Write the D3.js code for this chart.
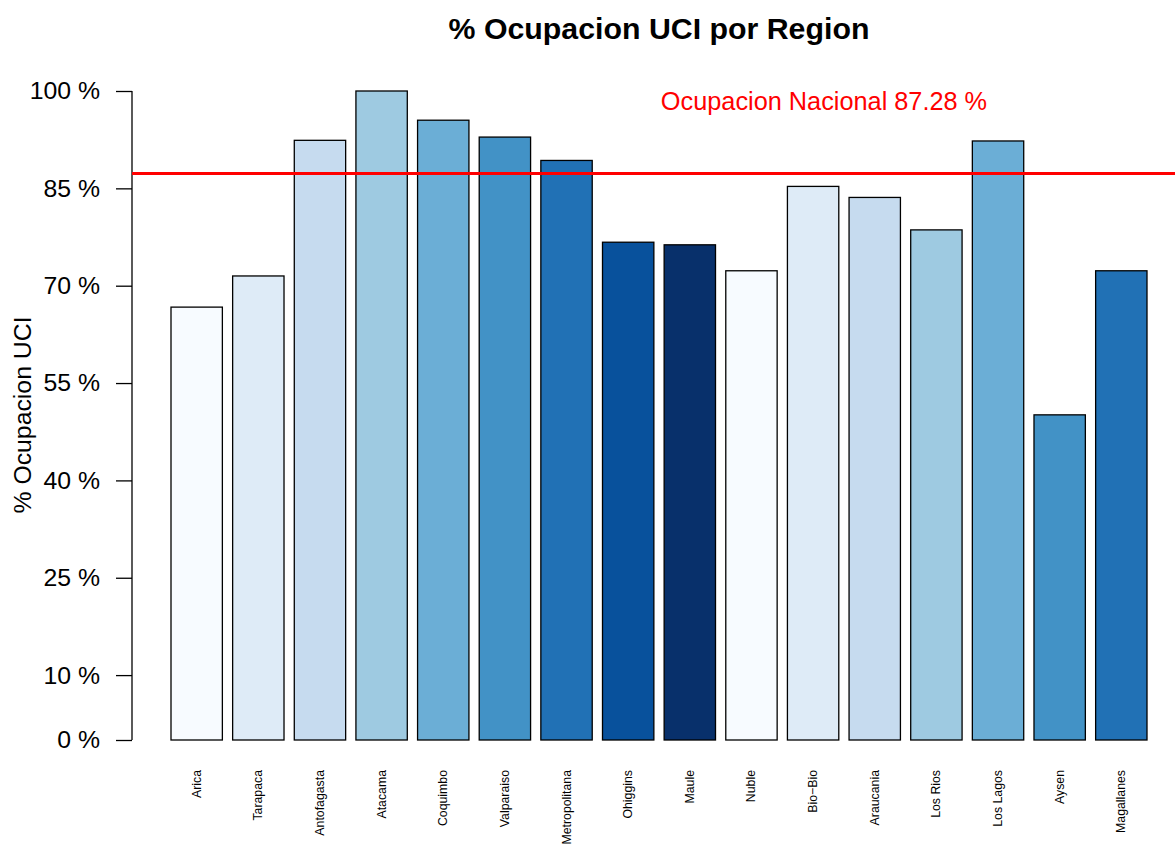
<!DOCTYPE html>
<html>
<head>
<meta charset="utf-8">
<script src="https://cdn.jsdelivr.net/npm/d3@7"></script>
<style>
  body { margin: 0; background: #fff; }
  text { font-family: "Liberation Sans", Arial, sans-serif; }
</style>
</head>
<body>
<script>
var regions = ["Arica", "Tarapaca", "Antofagasta", "Atacama", "Coquimbo", "Valparaiso",
  "Metropolitana", "Ohiggins", "Maule", "Nuble", "Bio\u2212Bio", "Araucania",
  "Los Rios", "Los Lagos", "Aysen", "Magallanes"];
var ocupacion = [66.7, 71.5, 92.4, 100, 95.5, 92.9, 89.3, 76.7, 76.3, 72.3, 85.3, 83.6, 78.6, 92.3, 50.1, 72.3];
var nacional = 87.28;
var yTicks = [0, 10, 25, 40, 55, 70, 85, 100];
var blues = ["#F7FBFF", "#DEEBF7", "#C6DBEF", "#9ECAE1", "#6BAED6", "#4292C6", "#2171B5", "#08519C", "#08306B"];

var width = 1175, height = 848;

var svg = d3.select("body").append("svg")
  .attr("width", width)
  .attr("height", height);

var x = d3.scaleBand().domain(regions).range([171, 1147]).paddingInner(1 / 6).paddingOuter(0);
var y = d3.scaleLinear().domain([0, 100]).range([740, 91]);

// bars
svg.selectAll("rect.bar").data(ocupacion).enter().append("rect")
  .attr("class", "bar")
  .attr("x", function(d, i) { return x(regions[i]); })
  .attr("y", function(d) { return y(d); })
  .attr("width", x.bandwidth())
  .attr("height", function(d) { return y(0) - y(d); })
  .style("fill", function(d, i) { return blues[i % 9]; })
  .style("stroke", "#000")
  .style("stroke-width", 1.3);

// y axis
var yAxis = svg.append("g")
  .attr("transform", "translate(132,0)")
  .call(d3.axisLeft(y).tickValues(yTicks).tickSize(16).tickPadding(16)
    .tickFormat(function(d) { return d + " %"; }));
yAxis.select(".domain").attr("d", "M0," + y(0) + "V" + y(100))
  .style("stroke", "#000").style("stroke-width", 1.3);
yAxis.selectAll(".tick line").style("stroke", "#000").style("stroke-width", 1.3);
yAxis.selectAll(".tick text")
  .style("font-family", "'Liberation Sans', Arial, sans-serif")
  .style("font-size", "24.8px")
  .style("fill", "#000");

// x labels
svg.selectAll("text.xlab").data(regions).enter().append("text")
  .attr("class", "xlab")
  .attr("transform", function(d) {
    return "translate(" + (x(d) + x.bandwidth() / 2 + 4) + ",770) rotate(-90)";
  })
  .attr("text-anchor", "end")
  .style("font-size", "12.3px")
  .text(function(d) { return d; });

// national line
svg.append("line")
  .attr("x1", 132).attr("x2", width)
  .attr("y1", y(nacional)).attr("y2", y(nacional))
  .style("stroke", "#ff0000")
  .style("stroke-width", 3);

svg.append("text")
  .attr("x", 824).attr("y", 110)
  .attr("text-anchor", "middle")
  .style("font-size", "25.3px")
  .style("fill", "#ff0000")
  .text("Ocupacion Nacional " + nacional + " %");

// title
svg.append("text")
  .attr("x", 659).attr("y", 39)
  .attr("text-anchor", "middle")
  .style("font-size", "30.3px")
  .style("font-weight", "bold")
  .text("% Ocupacion UCI por Region");

// y title
svg.append("text")
  .attr("transform", "translate(31,415) rotate(-90)")
  .attr("text-anchor", "middle")
  .style("font-size", "24.8px")
  .text("% Ocupacion UCI");
</script>
</body>
</html>
